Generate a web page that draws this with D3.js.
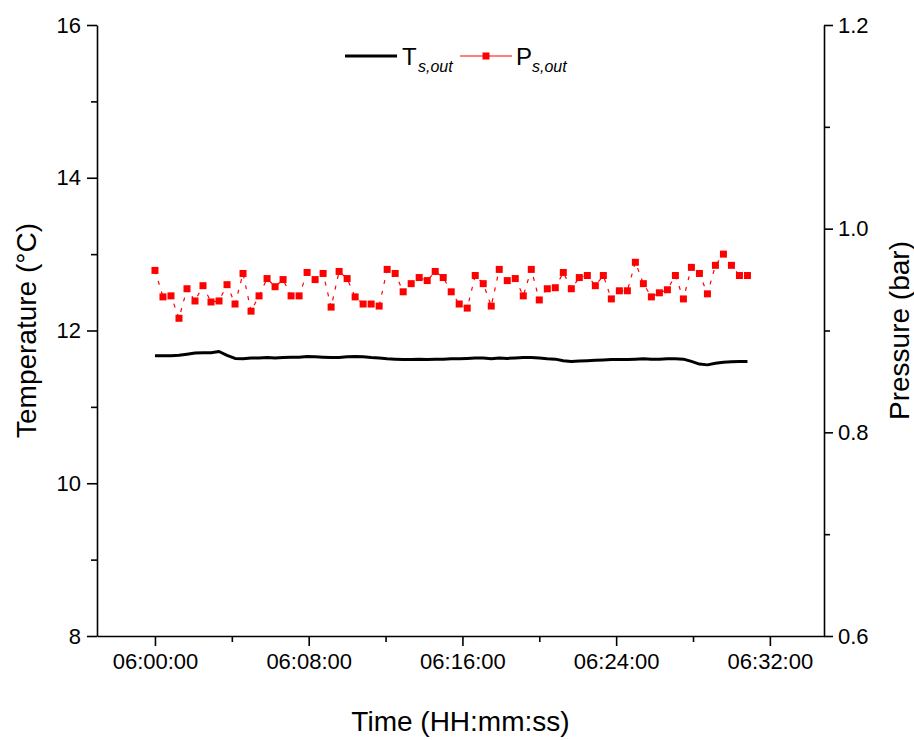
<!DOCTYPE html>
<html>
<head>
<meta charset="utf-8">
<script src="https://cdn.jsdelivr.net/npm/d3@7/dist/d3.min.js"></script>
<style>
  body { margin: 0; background: #fff; }
  text { font-family: "Liberation Sans", Arial, sans-serif; fill: #000; }
</style>
</head>
<body>
<svg width="914" height="740"></svg>
<script>
// sampling: one reading every 25 s starting 06:00:00
const startTime = new Date(2020, 0, 1, 6, 0, 0);
const stepSec = 25;

const tempValues = [
  11.67, 11.67, 11.67, 11.675, 11.69, 11.705, 11.71, 11.71, 11.725, 11.675,
  11.635, 11.63, 11.64, 11.64, 11.645, 11.64, 11.645, 11.65, 11.65, 11.66,
  11.655, 11.65, 11.645, 11.645, 11.655, 11.66, 11.655, 11.645, 11.64, 11.63,
  11.625, 11.62, 11.62, 11.625, 11.62, 11.625, 11.625, 11.63, 11.63, 11.635,
  11.64, 11.64, 11.63, 11.64, 11.635, 11.64, 11.645, 11.645, 11.64, 11.63,
  11.625, 11.605, 11.595, 11.60, 11.605, 11.61, 11.615, 11.62, 11.62, 11.62,
  11.625, 11.63, 11.625, 11.625, 11.63, 11.63, 11.625, 11.595, 11.56, 11.55,
  11.57, 11.585, 11.59, 11.595, 11.595
];

const pressValues = [
  0.959, 0.933, 0.934, 0.912, 0.941, 0.929, 0.944, 0.928, 0.929, 0.945,
  0.926, 0.956, 0.919, 0.934, 0.951, 0.943, 0.950, 0.934, 0.934, 0.957,
  0.950, 0.956, 0.923, 0.958, 0.951, 0.933, 0.926, 0.926, 0.924, 0.960,
  0.956, 0.938, 0.946, 0.952, 0.949, 0.958, 0.952, 0.938, 0.926, 0.922,
  0.954, 0.946, 0.924, 0.960, 0.949, 0.951, 0.934, 0.960, 0.930, 0.941,
  0.942, 0.957, 0.941, 0.952, 0.954, 0.944, 0.954, 0.931, 0.939, 0.939,
  0.967, 0.946, 0.933, 0.937, 0.940, 0.954, 0.931, 0.962, 0.956, 0.936,
  0.964, 0.975, 0.964, 0.954, 0.954
];

const tempTicks = [8, 10, 12, 14, 16];
const tempMinor = [9, 11, 13, 15];
const pressTicks = [0.6, 0.8, 1.0, 1.2];
const pressMinor = [0.7, 0.9, 1.1];

const times = tempValues.map((d, i) => new Date(startTime.getTime() + i * stepSec * 1000));

const svg = d3.select('svg');
const plotLeft = 97, plotRight = 824, plotTop = 25, plotBottom = 636;

const x = d3.scaleTime()
    .domain([new Date(2020, 0, 1, 5, 56, 59), new Date(2020, 0, 1, 6, 34, 49)])
    .range([plotLeft, plotRight]);
const yT = d3.scaleLinear().domain([8, 16]).range([plotBottom, plotTop]);
const yP = d3.scaleLinear().domain([0.6, 1.2]).range([plotBottom, plotTop]);

const fmt = d3.timeFormat('%H:%M:%S');

// x axis (major every 8 min, minor every 4 min)
const xTicks = d3.timeMinute.every(4).range(x.domain()[0], x.domain()[1]);
const xMajor = xTicks.filter(d => d.getMinutes() % 8 === 0);
const xMinor = xTicks.filter(d => d.getMinutes() % 8 !== 0);

const gx = svg.append('g').attr('transform', `translate(0,${plotBottom})`);
gx.call(d3.axisBottom(x).tickValues(xMajor).tickFormat(fmt).tickSize(10).tickPadding(7).tickSizeOuter(0));
gx.append('g').call(d3.axisBottom(x).tickValues(xMinor).tickFormat('').tickSize(6).tickSizeOuter(0))
  .select('.domain').remove();

const gl = svg.append('g').attr('transform', `translate(${plotLeft},0)`);
gl.call(d3.axisLeft(yT).tickValues(tempTicks).tickFormat(d3.format('d')).tickSize(10).tickPadding(6).tickSizeOuter(0));
gl.append('g').call(d3.axisLeft(yT).tickValues(tempMinor).tickFormat('').tickSize(6).tickSizeOuter(0))
  .select('.domain').remove();

const gr = svg.append('g').attr('transform', `translate(${plotRight},0)`);
gr.call(d3.axisRight(yP).tickValues(pressTicks).tickFormat(d3.format('.1f')).tickSize(9).tickPadding(5).tickSizeOuter(0));
gr.append('g').call(d3.axisRight(yP).tickValues(pressMinor).tickFormat('').tickSize(6).tickSizeOuter(0))
  .select('.domain').remove();

svg.selectAll('.domain').attr('stroke', '#000').attr('stroke-width', 1.6);
svg.selectAll('.tick line').attr('stroke', '#000').attr('stroke-width', 1.6);
svg.selectAll('.tick text')
    .style('font-family', '"Liberation Sans", Arial, sans-serif')
    .style('font-size', '22px')
    .attr('fill', '#000');

// axis titles
svg.append('text')
    .attr('x', (plotLeft + plotRight) / 2).attr('y', 731)
    .attr('text-anchor', 'middle')
    .style('font-size', '28px')
    .text('Time (HH:mm:ss)');

svg.append('text')
    .attr('transform', `translate(36,${(plotTop + plotBottom) / 2}) rotate(-90)`)
    .attr('text-anchor', 'middle')
    .style('font-size', '28px')
    .text('Temperature (\u00B0C)');

svg.append('text')
    .attr('transform', `translate(909,${(plotTop + plotBottom) / 2}) rotate(-90)`)
    .attr('text-anchor', 'middle')
    .style('font-size', '28px')
    .text('Pressure (bar)');

// pressure series (thin, broken connecting line like the original render)
const pLine = d3.line()
    .x((d, i) => x(times[i]))
    .y(d => yP(d));

svg.append('path')
    .datum(pressValues)
    .attr('d', pLine)
    .attr('fill', 'none')
    .attr('stroke', '#ff0000')
    .attr('stroke-width', 1.2)
    .attr('stroke-dasharray', '4,7');

svg.append('g').selectAll('rect')
    .data(pressValues)
    .enter().append('rect')
    .attr('x', (d, i) => x(times[i]) - 3.5)
    .attr('y', d => yP(d) - 3.5)
    .attr('width', 7)
    .attr('height', 7)
    .attr('fill', '#ff0000');

// temperature series
const tLine = d3.line()
    .x((d, i) => x(times[i]))
    .y(d => yT(d));

svg.append('path')
    .datum(tempValues)
    .attr('d', tLine)
    .attr('fill', 'none')
    .attr('stroke', '#000')
    .attr('stroke-width', 3)
    .attr('stroke-linejoin', 'round');

// legend
const lg = svg.append('g');
lg.append('line').attr('x1', 345).attr('x2', 397).attr('y1', 56).attr('y2', 56)
    .attr('stroke', '#000').attr('stroke-width', 3);
lg.append('text').attr('x', 402).attr('y', 65).style('font-size', '24px').text('T');
lg.append('text').attr('x', 418).attr('y', 72).style('font-size', '16px').style('font-style', 'italic').text('s,out');

lg.append('line').attr('x1', 460).attr('x2', 512).attr('y1', 56).attr('y2', 56)
    .attr('stroke', '#ff0000').attr('stroke-width', 1.2);
lg.append('rect').attr('x', 482.5).attr('y', 52.5).attr('width', 7).attr('height', 7).attr('fill', '#ff0000');
lg.append('text').attr('x', 516).attr('y', 65).style('font-size', '24px').text('P');
lg.append('text').attr('x', 532).attr('y', 72).style('font-size', '16px').style('font-style', 'italic').text('s,out');
</script>
</body>
</html>
